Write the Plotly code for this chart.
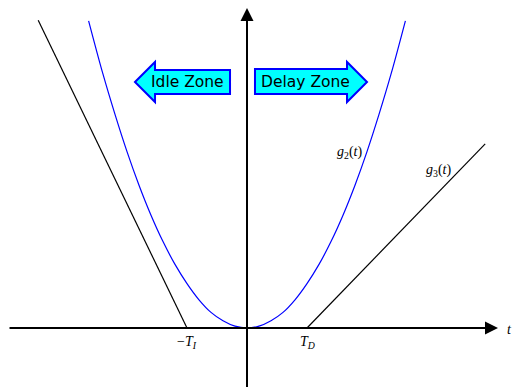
import plotly.graph_objects as go

# ---- data (units: T_I = T_D = 1) ----
g1_x = [-3.48, -1.0]
g1_y = [5.13, 0.0]

g2_x = [-2.64, -2.4, -2.2, -2.0, -1.8, -1.6, -1.4, -1.2, -1.0, -0.8, -0.6, -0.4, -0.2, 0.0,
        0.2, 0.4, 0.6, 0.8, 1.0, 1.2, 1.4, 1.6, 1.8, 2.0, 2.2, 2.4, 2.64]
g2_y = [5.12, 4.23, 3.56, 2.94, 2.38, 1.88, 1.44, 1.06, 0.74, 0.47, 0.26, 0.12, 0.03, 0.0,
        0.03, 0.12, 0.26, 0.47, 0.74, 1.06, 1.44, 1.88, 2.38, 2.94, 3.56, 4.23, 5.12]

g3_x = [1.0, 3.97]
g3_y = [0.0, 3.07]

tick_pos = [-1.0, 1.0]
tick_labels = ["\u2212<i>T</i><sub><i>I</i></sub>", "<i>T</i><sub><i>D</i></sub>"]

fig = go.Figure()
fig.add_trace(go.Scatter(x=g1_x, y=g1_y, mode="lines", line=dict(color="black", width=1.2), hoverinfo="skip"))
fig.add_trace(go.Scatter(x=g2_x, y=g2_y, mode="lines", line=dict(color="blue", width=1.2, shape="spline"), hoverinfo="skip"))
fig.add_trace(go.Scatter(x=g3_x, y=g3_y, mode="lines", line=dict(color="black", width=1.2), hoverinfo="skip"))

# axes as arrows
fig.add_annotation(x=4.183, y=0, ax=-3.983, ay=0, xref="x", yref="y", axref="x", ayref="y",
                   showarrow=True, arrowhead=2, arrowsize=1.3, arrowwidth=2, arrowcolor="black", text="")
fig.add_annotation(x=0, y=5.333, ax=0, ay=-1.1, xref="x", yref="y", axref="x", ayref="y",
                   showarrow=True, arrowhead=2, arrowsize=1.3, arrowwidth=2, arrowcolor="black", text="")

serif = dict(family="Liberation Serif", size=14, color="black")
for xp, lab in zip(tick_pos, tick_labels):
    fig.add_annotation(x=xp, y=-0.24, text=lab, showarrow=False, font=serif)
fig.add_annotation(x=4.38, y=-0.03, text="<i>t</i>", showarrow=False, font=serif)
fig.add_annotation(x=1.70, y=2.93, text="<i>g</i><sub>2</sub>(<i>t</i>)", showarrow=False, font=serif)
fig.add_annotation(x=3.19, y=2.62, text="<i>g</i><sub>3</sub>(<i>t</i>)", showarrow=False, font=serif)

# zone arrows
idle_path = "M -1.867 4.1 L -1.533 4.433 L -1.533 4.3 L -0.283 4.3 L -0.283 3.9 L -1.533 3.9 L -1.533 3.767 Z"
delay_path = "M 0.133 4.317 L 1.667 4.317 L 1.667 4.433 L 2.0 4.1 L 1.667 3.767 L 1.667 3.9 L 0.133 3.9 Z"
for p in (idle_path, delay_path):
    fig.add_shape(type="path", path=p, xref="x", yref="y", fillcolor="cyan",
                  line=dict(color="blue", width=2))
sans = dict(family="DejaVu Sans", size=15.5, color="black")
fig.add_annotation(x=-1.0, y=4.1, text="Idle Zone", showarrow=False, font=sans)
fig.add_annotation(x=0.98, y=4.1, text="Delay Zone", showarrow=False, font=sans)

fig.update_layout(
    width=516, height=387, margin=dict(l=0, r=0, t=0, b=0),
    paper_bgcolor="white", plot_bgcolor="white", showlegend=False,
    xaxis=dict(range=[-247 / 60, 269 / 60], visible=False, fixedrange=True),
    yaxis=dict(range=[-59 / 60, 328 / 60], visible=False, fixedrange=True),
)
fig.write_html("out.html", config={"displayModeBar": False},
               post_script="document.body.style.margin='0';document.body.style.overflow='hidden';")
